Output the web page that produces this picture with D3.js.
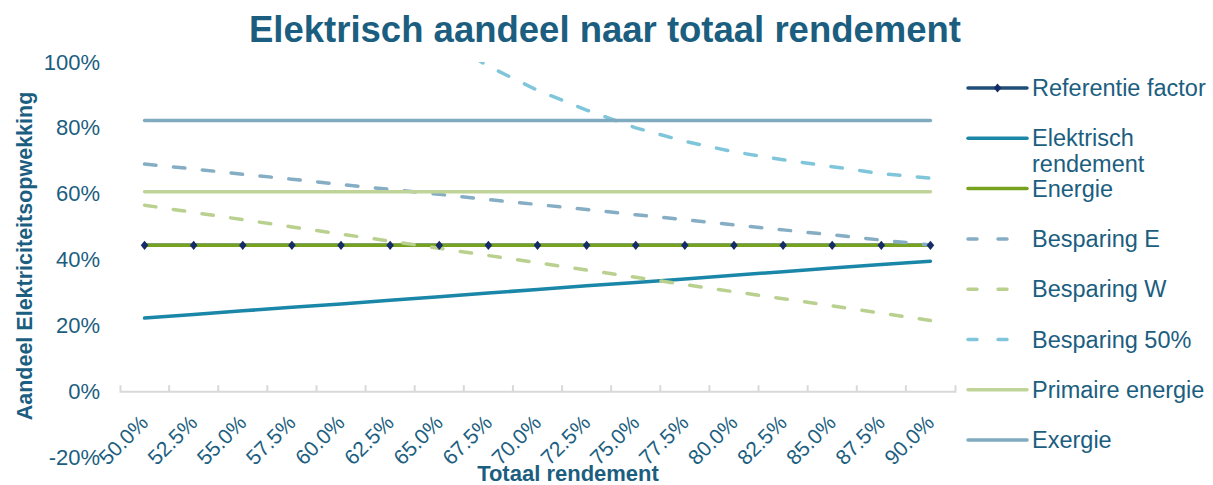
<!DOCTYPE html>
<html>
<head>
<meta charset="utf-8">
<script src="https://cdn.jsdelivr.net/npm/d3@7"></script>
<style>
  body { margin: 0; background: #fff; }
  svg { font-family: Arial, "Liberation Sans", sans-serif; }
</style>
</head>
<body>
<svg width="1213" height="485"></svg>
<script>
const svg = d3.select("svg")
const textColor = "#1b5e80"

// totaal rendement (x categories)
const categories = ["50.0%", "52.5%", "55.0%", "57.5%", "60.0%", "62.5%", "65.0%", "67.5%", "70.0%",
  "72.5%", "75.0%", "77.5%", "80.0%", "82.5%", "85.0%", "87.5%", "90.0%"]

// series values in %
const referentie = [44.3, 44.3, 44.3, 44.3, 44.3, 44.3, 44.3, 44.3, 44.3, 44.3, 44.3, 44.3, 44.3, 44.3, 44.3, 44.3, 44.3]
const elektrisch = [22.2, 23.3, 24.4, 25.5, 26.5, 27.6, 28.7, 29.8, 30.9, 32.0, 33.0, 34.1, 35.2, 36.3, 37.4, 38.5, 39.5]
const energie = [44.3, 44.3, 44.3, 44.3, 44.3, 44.3, 44.3, 44.3, 44.3, 44.3, 44.3, 44.3, 44.3, 44.3, 44.3, 44.3, 44.3]
const besparingE = [69.0, 67.5, 65.9, 64.4, 62.8, 61.3, 59.8, 58.2, 56.7, 55.2, 53.6, 52.1, 50.5, 49.0, 47.5, 45.9, 44.4]
const besparingW = [56.5, 54.3, 52.1, 49.9, 47.7, 45.6, 43.4, 41.2, 39.0, 36.8, 34.6, 32.4, 30.2, 28.1, 25.9, 23.7, 21.5]
const besparing50 = [210, 183, 161, 144, 130, 118, 108, 98.7, 91.4, 85.4, 80.0, 75.9, 72.7, 70.3, 68.2, 66.1, 64.7]
const primaire = [60.6, 60.6, 60.6, 60.6, 60.6, 60.6, 60.6, 60.6, 60.6, 60.6, 60.6, 60.6, 60.6, 60.6, 60.6, 60.6, 60.6]
const exergie = [82.2, 82.2, 82.2, 82.2, 82.2, 82.2, 82.2, 82.2, 82.2, 82.2, 82.2, 82.2, 82.2, 82.2, 82.2, 82.2, 82.2]

const yTicks = [-20, 0, 20, 40, 60, 80, 100]

const series = [
  { name: "Referentie factor", values: referentie, color: "#1f4e79", dashed: false, marker: true },
  { name: "Elektrisch rendement", values: elektrisch, color: "#1a87a8", dashed: false },
  { name: "Energie", values: energie, color: "#77a21f", dashed: false },
  { name: "Besparing E", values: besparingE, color: "#85adc3", dashed: true },
  { name: "Besparing W", values: besparingW, color: "#bad08f", dashed: true },
  { name: "Besparing 50%", values: besparing50, color: "#80c6da", dashed: true },
  { name: "Primaire energie", values: primaire, color: "#c0d49a", dashed: false },
  { name: "Exergie", values: exergie, color: "#80aabf", dashed: false }
]

const x = d3.scaleBand().domain(categories).range([120, 955])
const y = d3.scaleLinear().domain([-20, 100]).range([457, 62])
const cx = c => x(c) + x.bandwidth() / 2

// title
svg.append("text")
  .attr("x", 605).attr("y", 42)
  .attr("text-anchor", "middle")
  .attr("font-size", 36.5).attr("font-weight", "bold")
  .attr("fill", textColor)
  .text("Elektrisch aandeel naar totaal rendement")

// y axis (labels only)
const yAxis = svg.append("g")
  .attr("transform", "translate(120,0)")
  .call(d3.axisLeft(y).tickValues(yTicks).tickSize(0).tickPadding(20).tickFormat(d => d + "%"))
yAxis.select(".domain").remove()
yAxis.selectAll("text").attr("font-size", 22).attr("fill", textColor).attr("font-family", null)

// x axis at 0%
const xAxis = svg.append("g")
  .attr("transform", `translate(0,${y(0)})`)
  .call(d3.axisBottom(x).tickSize(0).tickSizeOuter(-6))
xAxis.select(".domain").attr("stroke", "#d9d9d9").attr("stroke-width", 2)
xAxis.selectAll("text")
  .attr("font-size", 21).attr("fill", textColor).attr("font-family", null)
  .attr("x", 0).attr("y", 0).attr("dy", 0)
  .attr("text-anchor", "end")
  .attr("transform", "translate(5,33) rotate(-45)")
xAxis.selectAll(".tickmark")
  .data(categories.slice(1))
  .join("line")
  .attr("x1", d => x(d)).attr("x2", d => x(d))
  .attr("y1", 0).attr("y2", -6)
  .attr("stroke", "#d9d9d9").attr("stroke-width", 2)

// axis titles
svg.append("text")
  .attr("transform", "translate(32,256) rotate(-90)")
  .attr("text-anchor", "middle")
  .attr("font-size", 21.5).attr("font-weight", "bold")
  .attr("fill", textColor)
  .text("Aandeel Elektriciteitsopwekking")

svg.append("text")
  .attr("x", 568).attr("y", 481)
  .attr("text-anchor", "middle")
  .attr("font-size", 22).attr("font-weight", "bold")
  .attr("fill", textColor)
  .text("Totaal rendement")

// lines
svg.append("clipPath").attr("id", "plot")
  .append("rect").attr("x", 100).attr("y", y(100)).attr("width", 880).attr("height", y(-20) - y(100))

const line = d3.line()
  .x((d, i) => cx(categories[i]))
  .y(d => y(d))

const plot = svg.append("g").attr("clip-path", "url(#plot)")
plot.selectAll("path")
  .data(series)
  .join("path")
  .attr("d", d => line(d.values))
  .attr("fill", "none")
  .attr("stroke", d => d.color)
  .attr("stroke-width", 3.5)
  .attr("stroke-linecap", "round")
  .attr("stroke-linejoin", "round")
  .attr("stroke-dasharray", d => d.dashed ? "11.5,17.5" : null)

const diamond = d3.symbol().type(d3.symbolDiamond).size(38)
plot.selectAll(".marker")
  .data(referentie)
  .join("path")
  .attr("class", "marker")
  .attr("d", diamond)
  .attr("transform", (d, i) => `translate(${cx(categories[i])},${y(d)}) scale(1.15,0.8)`)
  .attr("fill", "#162c66")

// legend
const legend = svg.append("g")
const item = legend.selectAll("g")
  .data(series)
  .join("g")
  .attr("transform", (d, i) => `translate(968,${88 + i * 50.3})`)

item.append("line")
  .attr("x1", 0).attr("x2", d => d.dashed ? 42 : 59)
  .attr("stroke", d => d.color)
  .attr("stroke-width", 3.5)
  .attr("stroke-linecap", "round")
  .attr("stroke-dasharray", d => d.dashed ? "9,21" : null)

item.filter(d => d.marker).append("path")
  .attr("d", diamond)
  .attr("transform", "translate(29.5,0) scale(1.15,0.8)")
  .attr("fill", "#162c66")

item.append("text")
  .attr("x", 64).attr("y", 8)
  .attr("font-size", 23.5)
  .attr("fill", textColor)
  .each(function (d) {
    const t = d3.select(this)
    if (d.name === "Elektrisch rendement") {
      t.append("tspan").attr("x", 64).text("Elektrisch")
      t.append("tspan").attr("x", 64).attr("dy", 26).text("rendement")
    } else {
      t.text(d.name)
    }
  })
</script>
</body>
</html>
